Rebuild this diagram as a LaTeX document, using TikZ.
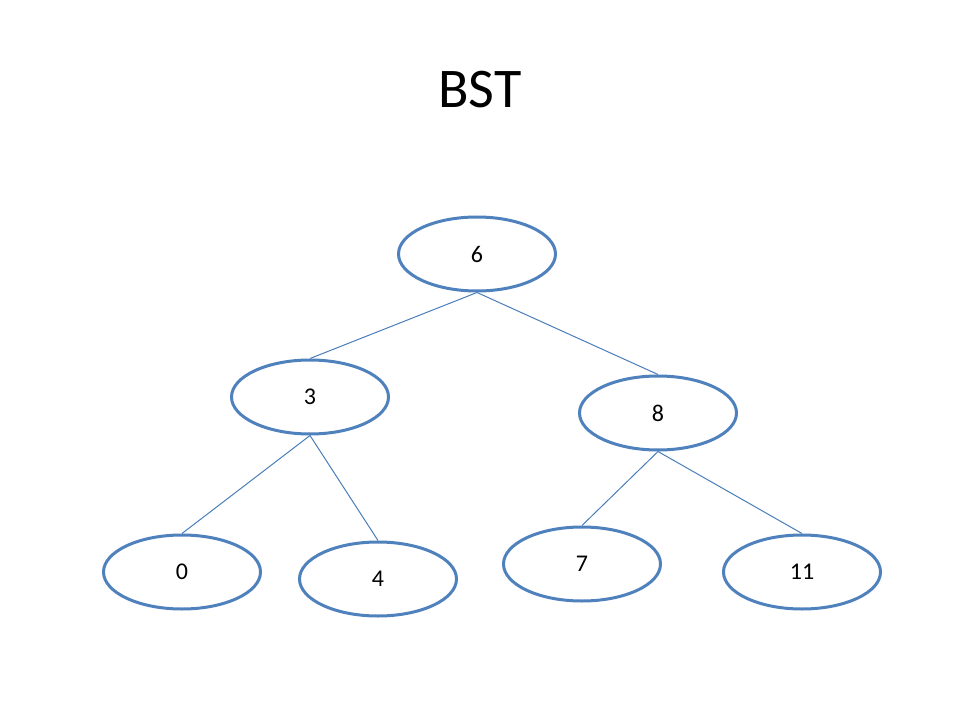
\documentclass[tikz,border=0pt]{standalone}
\usepackage{fontspec}
\setmainfont{Carlito}
\usetikzlibrary{shapes.geometric}
\definecolor{nodeblue}{RGB}{79,129,189}
\definecolor{edgeblue}{RGB}{74,126,187}
\tikzset{
  bstnode/.style={ellipse, draw=nodeblue, line width=2.25pt, fill=white,
    minimum width=117.75pt, minimum height=55.5pt, inner sep=0pt,
    font=\fontsize{18}{21.6}\selectfont},
  bstedge/.style={draw=edgeblue, line width=0.75pt},
}
\begin{document}
\begin{tikzpicture}[x=0.75pt, y=-0.75pt]
  \useasboundingbox[fill=white] (0,0) rectangle (960,720);

  % title
  \node[anchor=base, font=\fontsize{42}{50}\selectfont] (title) at (480,108) {BST};

  % tree nodes
  \node[bstnode] (n6)  at (477,254) {6};
  \node[bstnode] (n3)  at (310,397) {3};
  \node[bstnode] (n8)  at (658,413) {8};
  \node[bstnode] (n0)  at (182,572) {0};
  \node[bstnode] (n4)  at (378,579) {4};
  \node[bstnode] (n7)  at (582,564) {7};
  \node[bstnode] (n11) at (802,572) {11};

  % edges
  \draw[bstedge] (n6.south) -- (n3.north);
  \draw[bstedge] (n6.south) -- (n8.north);
  \draw[bstedge] (n3.south) -- (n0.north);
  \draw[bstedge] (n3.south) -- (n4.north);
  \draw[bstedge] (n8.south) -- (n7.north);
  \draw[bstedge] (n8.south) -- (n11.north);
\end{tikzpicture}
\end{document}
